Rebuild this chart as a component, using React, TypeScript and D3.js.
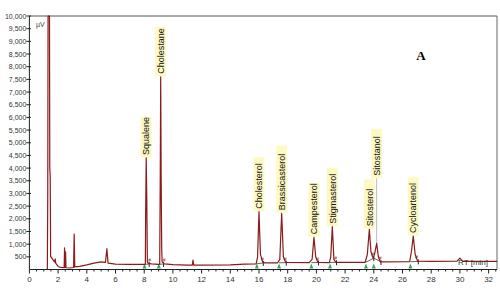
import React from "react";
import * as d3 from "d3";

// Chromatogram trace: retention time (min) and signal (µV)
const rt: number[] = [
  1.25, 1.28, 1.3, 1.4, 1.42, 1.45, 1.48, 1.55, 1.65, 1.75, 1.8, 1.83, 1.9, 2.0, 2.2, 2.42, 2.45, 2.48, 2.52, 2.55,
  2.8, 3.08, 3.12, 3.16, 3.5, 4.0, 4.5, 5.0, 5.3, 5.4, 5.48, 6.0, 7.0, 8.0, 8.08, 8.1, 8.14, 8.18, 8.22, 8.3,
  8.5, 9.0, 9.08, 9.12, 9.15, 9.18, 9.22, 9.25, 9.4, 10, 11, 11.35, 11.4, 11.45, 12, 14, 15, 15.8, 15.9, 16.0,
  16.1, 16.25, 16.4, 17.3, 17.45, 17.58, 17.7, 17.85, 19.5, 19.7, 19.83, 19.95, 20.1, 20.9, 21.0, 21.11, 21.22, 21.35, 23.4, 23.55,
  23.69, 23.8, 23.95, 24.05, 24.2, 24.32, 24.45, 26.5, 26.62, 26.75, 26.88, 27.05, 28, 29.8, 30.0, 30.2, 32.6,
];
const signal: number[] = [
  0, 3000, 10500, 10500, 4000, 3700, 500, 470, 380, 300, 420, 250, 200, 120, 80, 70, 850, 80, 700, 70,
  60, 80, 1400, 100, 120, 180, 250, 300, 280, 820, 250, 215, 205, 200, 210, 2100, 4400, 2800, 300, 240,
  220, 200, 220, 3800, 7600, 3800, 800, 300, 220, 190, 170, 175, 370, 175, 170, 185, 210, 225, 500, 2280,
  600, 300, 260, 265, 400, 2215, 500, 280, 270, 400, 1270, 500, 280, 275, 500, 1690, 400, 285, 285, 600,
  1585, 700, 450, 600, 1030, 500, 300, 305, 700, 1320, 600, 330, 320, 330, 450, 320, 320,
];

// Identified compounds
const compounds: string[] = [
  "Squalene", "Cholestane", "Cholesterol", "Brassicasterol", "Campesterol",
  "Stigmasterol", "Sitosterol", "Sitostanol", "Cycloartenol",
];
const compoundRt: number[] = [8.14, 9.15, 16.0, 17.58, 19.83, 21.11, 23.69, 24.2, 26.75];
const peakStart: number[] = [8.02, 9.02, 15.85, 17.4, 19.65, 20.95, 23.45, 24.0, 26.55];
const peakEnd: number[] = [8.35, 9.35, 16.3, 17.9, 20.15, 21.4, 24.0, 24.5, 27.1];

const yTicks: number[] = d3.range(500, 10001, 500);
const xTicks: number[] = d3.range(0, 33, 2);

export default function App() {
  const W = 500, H = 296;
  const x = d3.scaleLinear().domain([0, 32]).range([29.4, 488.6]);
  const y = d3.scaleLinear().domain([0, 10000]).range([269.5, 16]);
  const left = x(0), right = 497, top = y(10000), bottom = y(0);

  const pts: [number, number][] = rt.map((t, i) => [t, signal[i]]);
  const line = d3
    .line<[number, number]>()
    .x((d) => x(d[0]))
    .y((d) => Math.max(top, y(d[1])));

  const trace = line(pts) || "";
  const fmt = d3.format(",");
  const minorX = d3.range(0, 32.6, 0.5).filter((v) => v % 2 !== 0);

  const apexOf = (t: number) => {
    let best = 0;
    rt.forEach((r, i) => {
      if (Math.abs(r - t) < 0.06) best = Math.max(best, signal[i]);
    });
    return best;
  };
  const baseOf = (t: number) => {
    const i = d3.bisectLeft(rt, t);
    if (i <= 0) return signal[0];
    return Math.min(signal[i - 1], signal[i]);
  };

  const fontSize = 9;
  const boxW = 11;
  const placed: { x0: number; x1: number; y0: number; y1: number }[] = [];
  const labels = compounds.map((name, i) => {
    const cx = x(compoundRt[i]);
    const apexY = y(apexOf(compoundRt[i]));
    const len = name.length * 4.45 + 5;
    let y1 = apexY - 0.5;
    const x0 = cx - boxW / 2, x1 = cx + boxW / 2;
    for (const p of placed) {
      if (x0 < p.x1 && x1 > p.x0 && y1 > p.y0 && y1 - len < p.y1) {
        y1 = p.y0 - 1;
      }
    }
    const y0 = y1 - len;
    placed.push({ x0, x1, y0, y1 });
    return { name, cx, apexY, x0, y0, y1, len, lifted: y1 < apexY - 2 };
  });

  return (
    <svg
      width={W}
      height={H}
      style={{ position: "absolute", left: 0, top: 0, background: "#fff" }}
      fontFamily="Arial, 'Liberation Sans', sans-serif"
    >
      <rect width={W} height={H} fill="#fff" />
      {/* frame */}
      <line x1={left} x2={right} y1={top} y2={top} stroke="#555" strokeWidth={1} />
      <line x1={right} x2={right} y1={top} y2={bottom} stroke="#666" strokeWidth={1} />

      {/* labels */}
      {labels.map((l) => (
        <g key={l.name}>
          {l.lifted && (
            <line x1={l.cx} x2={l.cx} y1={l.y1} y2={l.apexY} stroke="#bbb" strokeWidth={1} />
          )}
          <rect x={l.x0} y={l.y0} width={boxW} height={l.len} fill="#fdf8bd" opacity={0.9} />
          <text
            transform={`translate(${l.cx + 3.2},${l.y1 - 2.5}) rotate(-90)`}
            fontSize={fontSize}
            fill="#111"
          >
            {l.name}
          </text>
        </g>
      ))}

      {/* peak integration marks */}
      {compounds.map((c, i) => {
        const xs = x(peakStart[i]);
        const xe = x(peakEnd[i]);
        const yb = y(baseOf(peakStart[i]));
        const ye = y(baseOf(peakEnd[i]));
        return (
          <g key={"m" + c}>
            <path d={`M${xs - 2},${bottom - 1} L${xs + 2},${bottom - 1} L${xs},${bottom - 6} Z`} fill="#3aa655" />
            <line x1={xe} x2={xe} y1={ye - 2} y2={ye + 3} stroke="#222" strokeWidth={1} />
            <line x1={xs} x2={xe} y1={yb} y2={ye} stroke="#222" strokeWidth={0.7} />
            <text x={x(compoundRt[i]) + 2} y={ye - 2} fontSize={5} fill="#b03030">
              #
            </text>
          </g>
        );
      })}

      {/* trace */}
      <path d={trace} fill="none" stroke="#8b1a1a" strokeWidth={1.2} strokeLinejoin="round" />

      {/* y axis */}
      <line x1={left} x2={left} y1={top} y2={bottom} stroke="#222" strokeWidth={1} />
      {yTicks.map((v) => (
        <g key={"y" + v}>
          <line x1={left - 3} x2={left + 1.5} y1={y(v)} y2={y(v)} stroke="#222" strokeWidth={1} />
          <text x={left - 3} y={y(v) + 2.5} fontSize={7} textAnchor="end" fill="#333">
            {fmt(v)}
          </text>
        </g>
      ))}
      <text x={36} y={27} fontSize={7} fill="#444">
        µV
      </text>

      {/* x axis */}
      <line x1={left} x2={right} y1={bottom} y2={bottom} stroke="#222" strokeWidth={1} />
      {minorX.map((v) => (
        <line key={"mx" + v} x1={x(v)} x2={x(v)} y1={bottom} y2={bottom + 2} stroke="#222" strokeWidth={1} />
      ))}
      {xTicks.map((v) => (
        <g key={"x" + v}>
          <line x1={x(v)} x2={x(v)} y1={bottom} y2={bottom + 4} stroke="#222" strokeWidth={1} />
          <text x={x(v)} y={282} fontSize={8} textAnchor="middle" fill="#333">
            {v}
          </text>
        </g>
      ))}
      <text x={488} y={265} fontSize={8} textAnchor="end" fill="#333">
        RT [min]
      </text>

      <text x={421} y={60} fontSize={13} fontWeight="bold" textAnchor="middle" fontFamily="'Liberation Serif', 'Times New Roman', serif">
        A
      </text>
    </svg>
  );
}
